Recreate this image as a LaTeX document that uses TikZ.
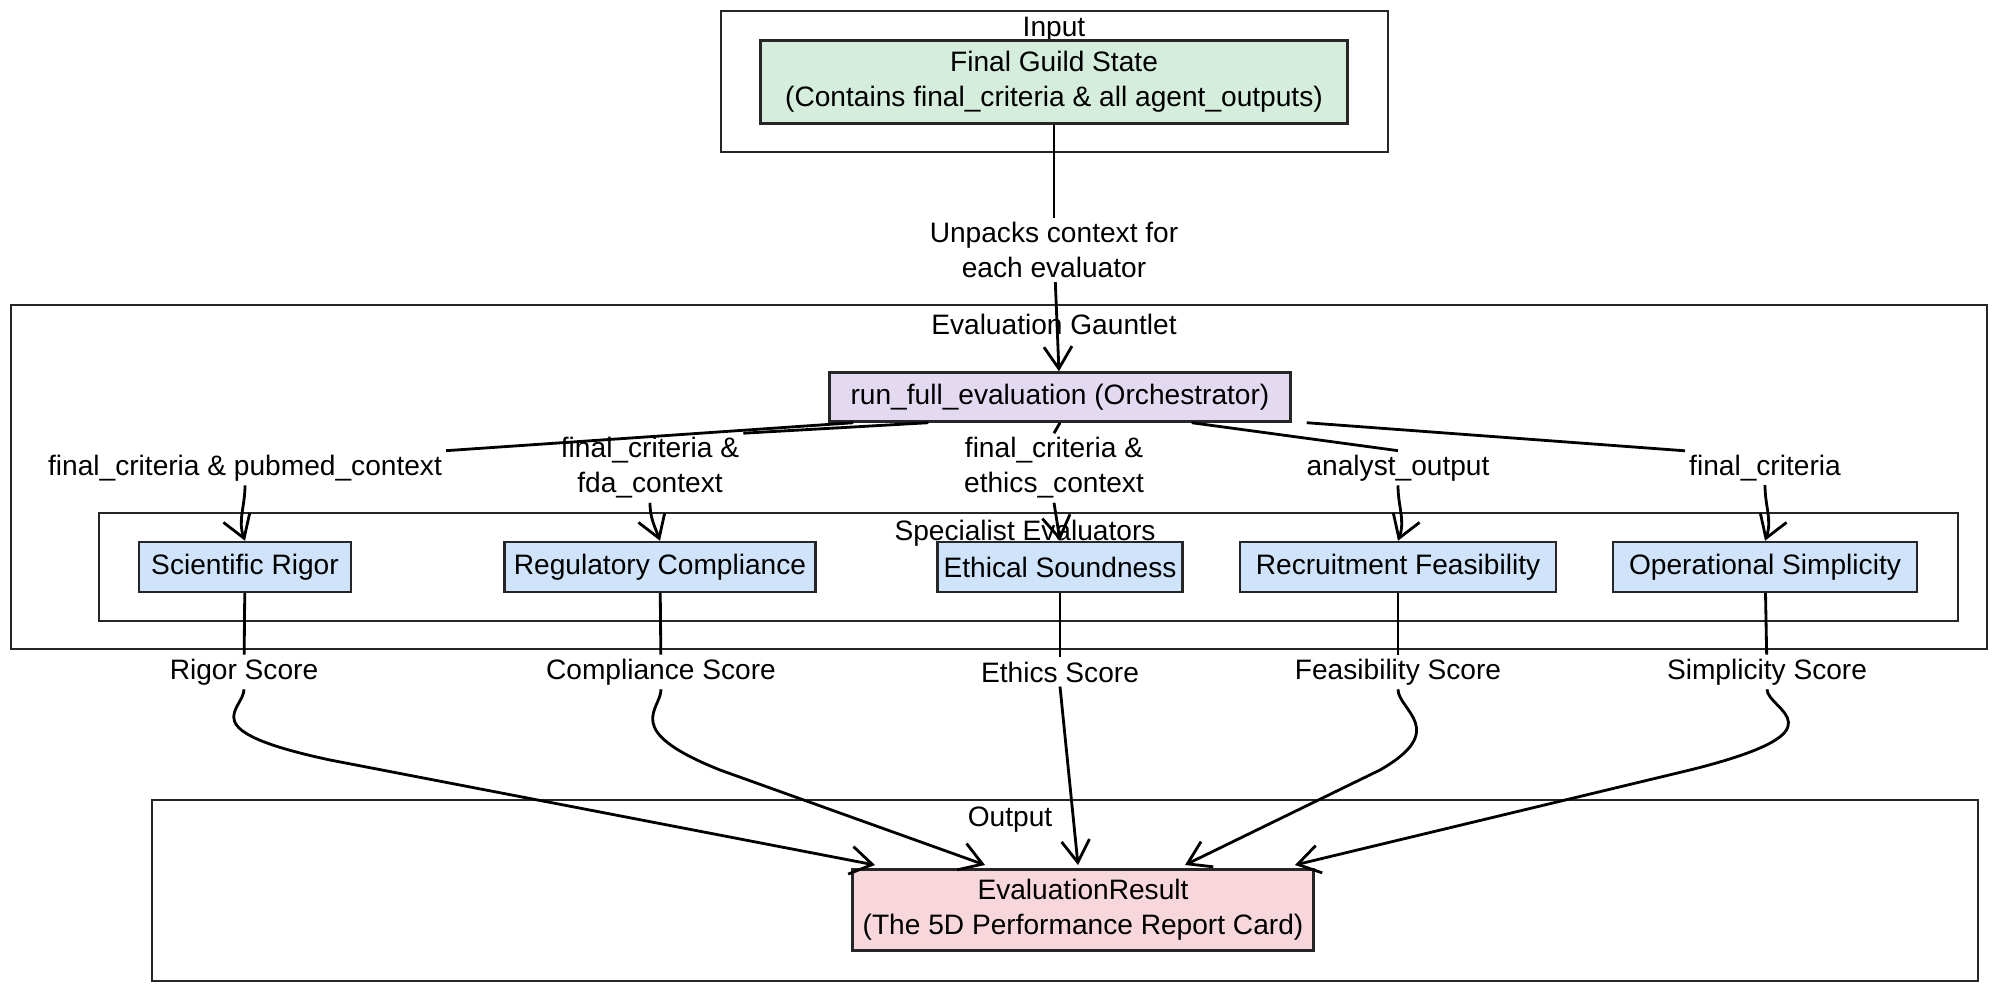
\documentclass[tikz,border=0pt]{standalone}
\usepackage{fontspec}
\setmainfont{Liberation Sans}
\usetikzlibrary{arrows.meta}
\definecolor{cg}{HTML}{D5EDDC}
\definecolor{cv}{HTML}{E3DAF2}
\definecolor{cb}{HTML}{CFE3FA}
\definecolor{cr}{HTML}{F7D7DC}
\begin{document}
\begin{tikzpicture}[x=1cm,y=-1cm,font=\fontsize{8}{10}\selectfont,
 grp/.style={draw=black!85,line width=0.7pt},
 box/.style={draw=black!85,line width=0.7pt,align=center,inner sep=0pt},
 lab/.style={fill=white,inner sep=1pt,align=center},
 arr/.style={line width=0.8pt,-{Straight Barb[length=2.2mm,width=2.8mm]}},
 ln/.style={line width=0.8pt}]
\useasboundingbox (0,0) rectangle (20,9.91);
% groups
\draw[grp] (7.21,0.11) rectangle (13.88,1.52);
\node at (10.54,0.30) {Input};
\draw[grp] (0.11,3.05) rectangle (19.87,6.49);
\node at (10.54,3.24) {Evaluation Gauntlet};
\draw[grp] (0.99,5.13) rectangle (19.58,6.21);
\draw[grp] (1.52,8.00) rectangle (19.78,9.81);
\node at (10.1,8.20) {Output};
% nodes
\node[box,fill=cg,minimum width=5.87cm,minimum height=0.83cm] (in) at (10.54,0.82) {Final Guild State\\(Contains final\_criteria \& all agent\_outputs)};
\node[box,fill=cv,minimum width=4.61cm,minimum height=0.49cm] (orc) at (10.60,3.97) {run\_full\_evaluation (Orchestrator)};
\node at (10.25,5.33) {Specialist Evaluators};
\tikzset{ev/.style={box,fill=cb,minimum height=0.50cm}}
\node[ev,minimum width=2.12cm] (e1) at (2.45,5.67) {Scientific Rigor};
\node[ev,minimum width=3.11cm] (e2) at (6.60,5.67) {Regulatory Compliance};
\node[ev,minimum width=2.45cm] (e3) at (10.60,5.67) {Ethical Soundness};
\node[ev,minimum width=3.16cm] (e4) at (13.98,5.67) {Recruitment Feasibility};
\node[ev,minimum width=3.04cm] (e5) at (17.65,5.67) {Operational Simplicity};
\node[box,fill=cr,minimum width=4.61cm,minimum height=0.81cm] (res) at (10.83,9.10) {EvaluationResult\\(The 5D Performance Report Card)};
% input to orchestrator
\node[lab] (l0) at (10.54,2.50) {Unpacks context for\\each evaluator};
\draw[ln] (in) -- (l0);
\draw[arr] (l0) -- (orc);
% orchestrator to evaluators
\node[lab] (a1) at (2.45,4.68) {final\_criteria \& pubmed\_context};
\node[lab] (a2) at (6.50,4.68) {final\_criteria \&\\fda\_context};
\node[lab] (a3) at (10.54,4.68) {final\_criteria \&\\ethics\_context};
\node[lab] (a4) at (13.98,4.68) {analyst\_output};
\node[lab] (a5) at (17.65,4.68) {final\_criteria};
\draw[ln] (orc.south west) ++(0.25,0) -- (a1.north east);
\draw[ln] (orc.south west) ++(1.0,0) -- (a2.north east);
\draw[ln] (orc.south) -- (a3.north);
\draw[ln] (orc.south east) ++(-1.0,0) -- (a4.north);
\draw[ln] (orc.south east) ++(0.15,0) -- (a5.north west);
\draw[arr] (a1.south) to[out=-90,in=110] (e1.north);
\draw[arr] (a2.south) to[out=-90,in=110] (e2.north);
\draw[arr] (a3.south) -- (e3.north);
\draw[arr] (a4.south) to[out=-90,in=70] (e4.north);
\draw[arr] (a5.south) to[out=-90,in=70] (e5.north);
% scores
\node[lab] (s1) at (2.44,6.72) {Rigor Score};
\node[lab] (s2) at (6.61,6.72) {Compliance Score};
\node[lab] (s3) at (10.60,6.72) {Ethics Score};
\node[lab] (s4) at (13.98,6.72) {Feasibility Score};
\node[lab] (s5) at (17.67,6.72) {Simplicity Score};
\foreach \i in {1,...,5} \draw[ln] (e\i) -- (s\i);
\draw[arr] (s1.south) .. controls (2.44,7.1) and (1.9,7.3) .. (3.3,7.6) -- (8.75,8.65);
\draw[arr] (s2.south) .. controls (6.61,7.1) and (6.2,7.3) .. (7.2,7.7) -- (9.85,8.65);
\draw[arr] (s3.south) -- (10.78,8.65);
\draw[arr] (s4.south) .. controls (13.98,7.1) and (14.5,7.3) .. (13.8,7.7) -- (11.85,8.65);
\draw[arr] (s5.south) .. controls (17.67,7.1) and (18.5,7.3) .. (16.9,7.7) -- (12.95,8.65);
\end{tikzpicture}
\end{document}
